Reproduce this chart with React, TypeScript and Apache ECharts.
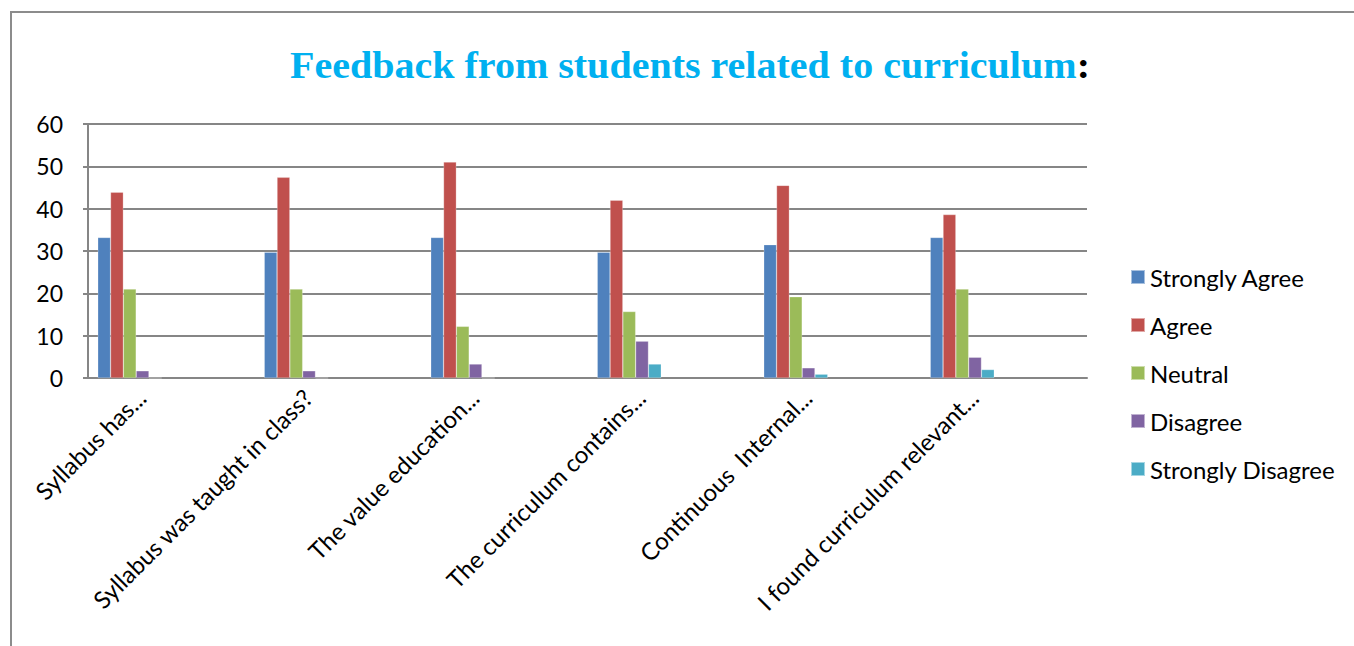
import React, { useEffect, useRef } from "react";
import * as echarts from "echarts";

const categories = [
  "Syllabus has...",
  "Syllabus was taught in class?",
  "The value education...",
  "The curriculum contains...",
  "Continuous  Internal...",
  "I found curriculum relevant...",
];
const seriesNames = ["Strongly Agree", "Agree", "Neutral", "Disagree", "Strongly Disagree"];
const stronglyAgree = [33.2, 29.7, 33.2, 29.7, 31.5, 33.2];
const agree = [43.9, 47.4, 51.0, 42.0, 45.5, 38.6];
const neutral = [21.0, 21.0, 12.2, 15.7, 19.2, 21.0];
const disagree = [1.7, 1.7, 3.3, 8.7, 2.4, 4.9];
const stronglyDisagree = [0, 0, 0, 3.3, 0.9, 2.0];
const yTicks = [0, 10, 20, 30, 40, 50, 60];
const colors = ["#4F81BD", "#C0504D", "#9BBB59", "#8064A2", "#4BACC6"];

const FONT = "Lato";

export default function App() {
  const ref = useRef<HTMLDivElement>(null);
  useEffect(() => {
    if (!ref.current) return;
    const chart = echarts.init(ref.current, null, { renderer: "svg" });
    const values = [stronglyAgree, agree, neutral, disagree, stronglyDisagree];
    const series: any[] = values.map((d, i) => ({
      name: seriesNames[i],
      type: "bar",
      data: d,
      barWidth: 12.8,
      barGap: "0%",
      itemStyle: { color: colors[i], borderColor: "rgba(255,255,255,0.5)", borderWidth: 0.5 },
    }));
    series.push({
      name: "_pad",
      type: "bar",
      data: categories.map(() => null),
      barWidth: 83,
      barGap: "0%",
      silent: true,
    });
    chart.setOption({
      animation: false,
      legend: {
        data: seriesNames,
        orient: "vertical",
        left: 1130,
        top: 264,
        padding: 0,
        itemWidth: 14,
        itemHeight: 14,
        itemGap: 22,
        icon: "rect",
        textStyle: { fontFamily: FONT, fontSize: 24, color: "#000", lineHeight: 26 },
      },
      graphic: [
        {
          type: "rect",
          shape: { x: 11, y: 12, width: 1400, height: 700 },
          style: { fill: "none", stroke: "#8c8c8c", lineWidth: 2 },
          silent: true,
        },
        {
          type: "text",
          x: 290,
          y: 47,
          scaleX: 1.082,
          silent: true,
          style: {
            text: "{a|Feedback from students related to curriculum}{b|:}",
            rich: {
              a: { fontFamily: "Liberation Serif", fontWeight: "bold", fontSize: 37, fill: "#00B0F0" },
              b: { fontFamily: "Liberation Serif", fontWeight: "bold", fontSize: 37, fill: "#000" },
            },
          },
        },
      ],
      grid: { left: 88, right: 267, top: 124, bottom: 268, containLabel: false },
      xAxis: {
        type: "category",
        data: categories,
        axisLine: { show: true, lineStyle: { color: "#868686", width: 2 } },
        axisTick: { show: false },
        axisLabel: {
          interval: 0,
          rotate: 45,
          margin: 17,
          padding: [0, 20, 0, 0],
          lineHeight: 45,
          verticalAlign: "bottom",
          fontFamily: FONT,
          fontSize: 24,
          color: "#000",
        },
      },
      yAxis: {
        type: "value",
        min: 0,
        max: 60,
        interval: 10,
        axisLine: { show: true, lineStyle: { color: "#868686", width: 2 } },
        axisTick: { show: true, length: 5, lineStyle: { color: "#868686", width: 2 } },
        splitLine: { show: true, lineStyle: { color: "#868686", width: 2 } },
        axisLabel: {
          margin: 25,
          fontFamily: FONT,
          fontSize: 23,
          color: "#000",
          formatter: (v: number) => (yTicks.includes(v) ? String(v) : ""),
        },
      },
      series,
    });
    return () => chart.dispose();
  }, []);
  return (
    <div
      ref={ref}
      style={{ position: "fixed", left: 0, top: 0, width: 1354, height: 646, background: "#fff" }}
    />
  );
}
